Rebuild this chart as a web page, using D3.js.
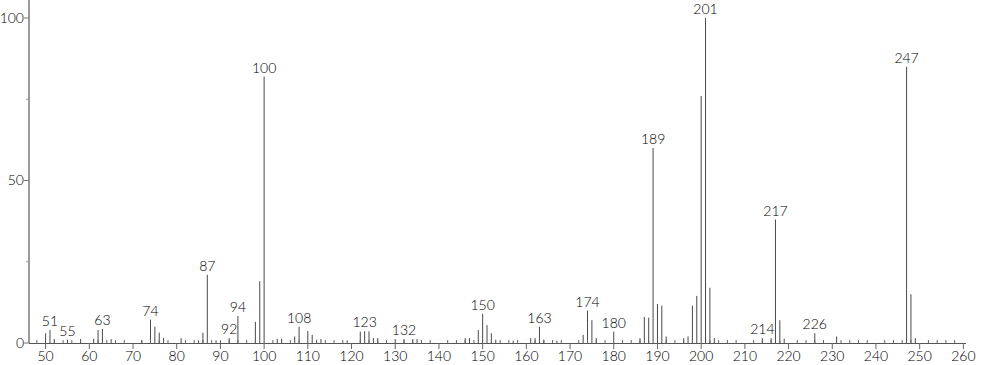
<!DOCTYPE html>
<html>
<head>
<meta charset="utf-8">
<script src="https://cdn.jsdelivr.net/npm/d3@7"></script>
<style>
  html, body { margin: 0; padding: 0; background: #fff; }
  svg { display: block; }
  text { font-family: "Lato", "DejaVu Sans", sans-serif; font-weight: 300; fill: #000; }
</style>
</head>
<body>
<svg id="chart" width="982" height="365"></svg>
<script>
// m/z values
const mz = [50,51,52,55,58,61,62,63,65,72,74,75,76,77,81,85,86,87,89,90,92,94,98,99,100,
  103,104,107,108,110,111,112,113,119,122,123,124,125,126,130,132,134,135,146,147,149,150,151,152,153,
  157,161,162,163,164,167,173,174,175,176,180,186,187,188,189,190,191,192,196,197,198,199,200,201,202,203,
  214,216,217,218,219,226,231,247,248,249];
// relative intensities
const intensity = [3,4,1.2,1,1.2,1.3,4,4.3,1.2,0.8,7.2,5,3.2,1.6,1.5,0.8,3.2,21,0.8,0.8,1.5,8.3,6.5,19,82,
  1.3,1.3,2,5,3.7,2.5,1,1.2,0.8,3.5,3.6,3.6,1.5,1.5,1.2,1.2,1.2,1.2,1.5,1.5,4,9,5.5,3,1,
  0.7,1.5,1.5,5,1,0.7,2.5,10,7,1.5,3.5,1.5,8,7.8,60,12,11.5,2,1.5,2,11.5,14.5,76,100,17,1.5,
  1.5,1.5,38,7,1.3,3,2,85,15,1.5];
// labelled peaks
const labelled = [51,55,63,74,87,92,94,100,108,123,132,150,163,174,180,189,201,214,217,226,247];
const xTicks = [50,60,70,80,90,100,110,120,130,140,150,160,170,180,190,200,210,220,230,240,250,260];
const yTicks = [0,50,100];

const svg = d3.select("#chart");
const x = d3.scaleLinear().domain([46.2, 260.6]).range([29, 966]);
const y = d3.scaleLinear().domain([0, 100]).range([343, 18]);

// bars
const data = mz.map((m, i) => ({ m, v: intensity[i] }));
svg.append("g").selectAll("line").data(data).join("line")
  .attr("x1", d => x(d.m)).attr("x2", d => x(d.m))
  .attr("y1", y(0)).attr("y2", d => y(d.v))
  .attr("stroke", "#4a4a4a").attr("stroke-width", 1);

// y axis
const gy = svg.append("g");
gy.append("line").attr("x1", 29).attr("x2", 29).attr("y1", 0).attr("y2", y(0))
  .attr("stroke", "#9a9a9a").attr("stroke-width", 2);
gy.selectAll(".ymaj").data(yTicks).join("line")
  .attr("x1", 24).attr("x2", 29).attr("y1", d => y(d)).attr("y2", d => y(d))
  .attr("stroke", "#777");
gy.selectAll(".ymin").data([25, 75]).join("line")
  .attr("x1", 26).attr("x2", 29).attr("y1", d => y(d)).attr("y2", d => y(d))
  .attr("stroke", "#999");
gy.selectAll("text").data(yTicks).join("text")
  .attr("x", 24).attr("y", d => y(d)).attr("dy", "0.35em")
  .attr("text-anchor", "end").attr("font-size", 14).text(d => d);

// x axis
const gx = svg.append("g");
gx.append("line").attr("x1", 29).attr("x2", 966).attr("y1", 343.5).attr("y2", 343.5)
  .attr("stroke", "#555").attr("stroke-width", 1);
gx.selectAll(".xmin").data(d3.range(48, 261, 2).filter(v => v % 10 !== 0)).join("line")
  .attr("x1", d => x(d)).attr("x2", d => x(d)).attr("y1", 343).attr("y2", 340)
  .attr("stroke", "#666");
gx.selectAll(".xmaj").data(xTicks).join("line")
  .attr("x1", d => x(d)).attr("x2", d => x(d)).attr("y1", 343).attr("y2", 349)
  .attr("stroke", "#666");
gx.selectAll("text").data(xTicks).join("text")
  .attr("x", d => x(d)).attr("y", 361)
  .attr("text-anchor", "middle").attr("font-size", 14).text(d => d);

// peak labels
const lab = data.filter(d => labelled.includes(d.m));
svg.append("g").selectAll("text").data(lab).join("text")
  .attr("x", d => x(d.m)).attr("y", d => y(d.v) - 4)
  .attr("text-anchor", "middle").attr("font-size", 14).text(d => d.m);
</script>
</body>
</html>
